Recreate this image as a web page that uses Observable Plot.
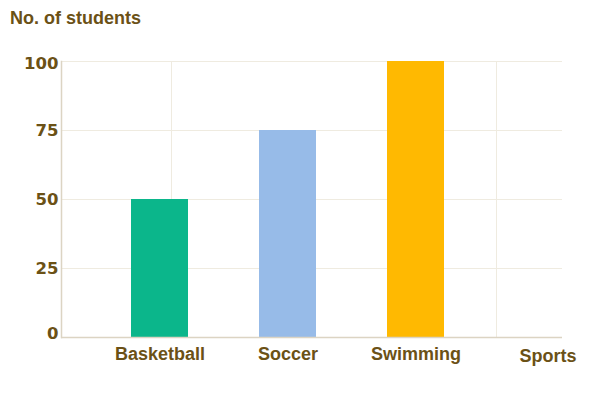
<!DOCTYPE html>
<html>
<head>
<meta charset="utf-8">
<script src="https://cdn.jsdelivr.net/npm/d3@7"></script>
<script src="https://cdn.jsdelivr.net/npm/@observablehq/plot@0.6"></script>
<style>
  html, body { margin: 0; padding: 0; background: #fff; }
  #wrap { position: relative; width: 602px; height: 394px; }
  #title { position: absolute; left: 10px; top: 9px; font: bold 18px "Liberation Sans", Arial, sans-serif; line-height: 18px; color: #6b5116; }
</style>
</head>
<body>
<div id="wrap"><div id="title">No. of students</div></div>
<script>
const categories = ["Basketball", "Soccer", "Swimming"];
const students = [50, 75, 100];
const colors = ["#0bb68b", "#97bbe8", "#ffb901"];
const yTicks = [0, 25, 50, 75, 100];
const xAxisLabel = "Sports";

const data = categories.map((c, i) => ({category: c, value: students[i], color: colors[i]}));
const textColor = "#6b5116";
const gridColor = "#efebe0";
const axisColor = "#dcd4c3";
const yFont = {fontFamily: "DejaVu Sans", fontWeight: "bold", fontSize: 16.5, fill: textColor};
const xFont = {fontFamily: "Liberation Sans", fontWeight: "bold", fontSize: 18, fill: textColor};

const chart = Plot.plot({
  width: 602,
  height: 394,
  marginLeft: 61,
  marginRight: 40,
  marginTop: 61,
  marginBottom: 57,
  style: {background: "#fff", color: textColor},
  x: {domain: categories, range: [94.25, 479.75], paddingInner: 0.5564, paddingOuter: 0.2782, label: null},
  y: {domain: [0, 100], label: null},
  marks: [
    Plot.ruleY(yTicks.filter(d => d > 0), {stroke: gridColor, strokeWidth: 1}),
    Plot.ruleX([categories[0]], {stroke: gridColor, strokeWidth: 1, dx: 11.5}),
    Plot.ruleX([categories[2]], {stroke: gridColor, strokeWidth: 1, dx: 80.5}),
    Plot.barY(data, {x: "category", y: "value", fill: "color"}),
    Plot.frame({anchor: "left", stroke: axisColor, strokeWidth: 1.5}),
    Plot.ruleY([0], {stroke: axisColor, strokeWidth: 1.5}),
    Plot.axisY({ticks: yTicks.slice(1, -1), tickSize: 0, tickPadding: 3, label: null, ...yFont}),
    Plot.axisY({ticks: yTicks.slice(0, 1), tickSize: 0, tickPadding: 3, dy: -4, label: null, ...yFont}),
    Plot.axisY({ticks: yTicks.slice(-1), tickSize: 0, tickPadding: 3, dy: 2, label: null, ...yFont}),
    Plot.axisX({tickSize: 0, tickPadding: 10, label: null, ...xFont}),
    Plot.text([xAxisLabel], {frameAnchor: "bottom-right", text: d => d, textAnchor: "end", dx: 14, dy: 24, ...xFont})
  ]
});
document.getElementById("wrap").prepend(chart);
</script>
</body>
</html>
